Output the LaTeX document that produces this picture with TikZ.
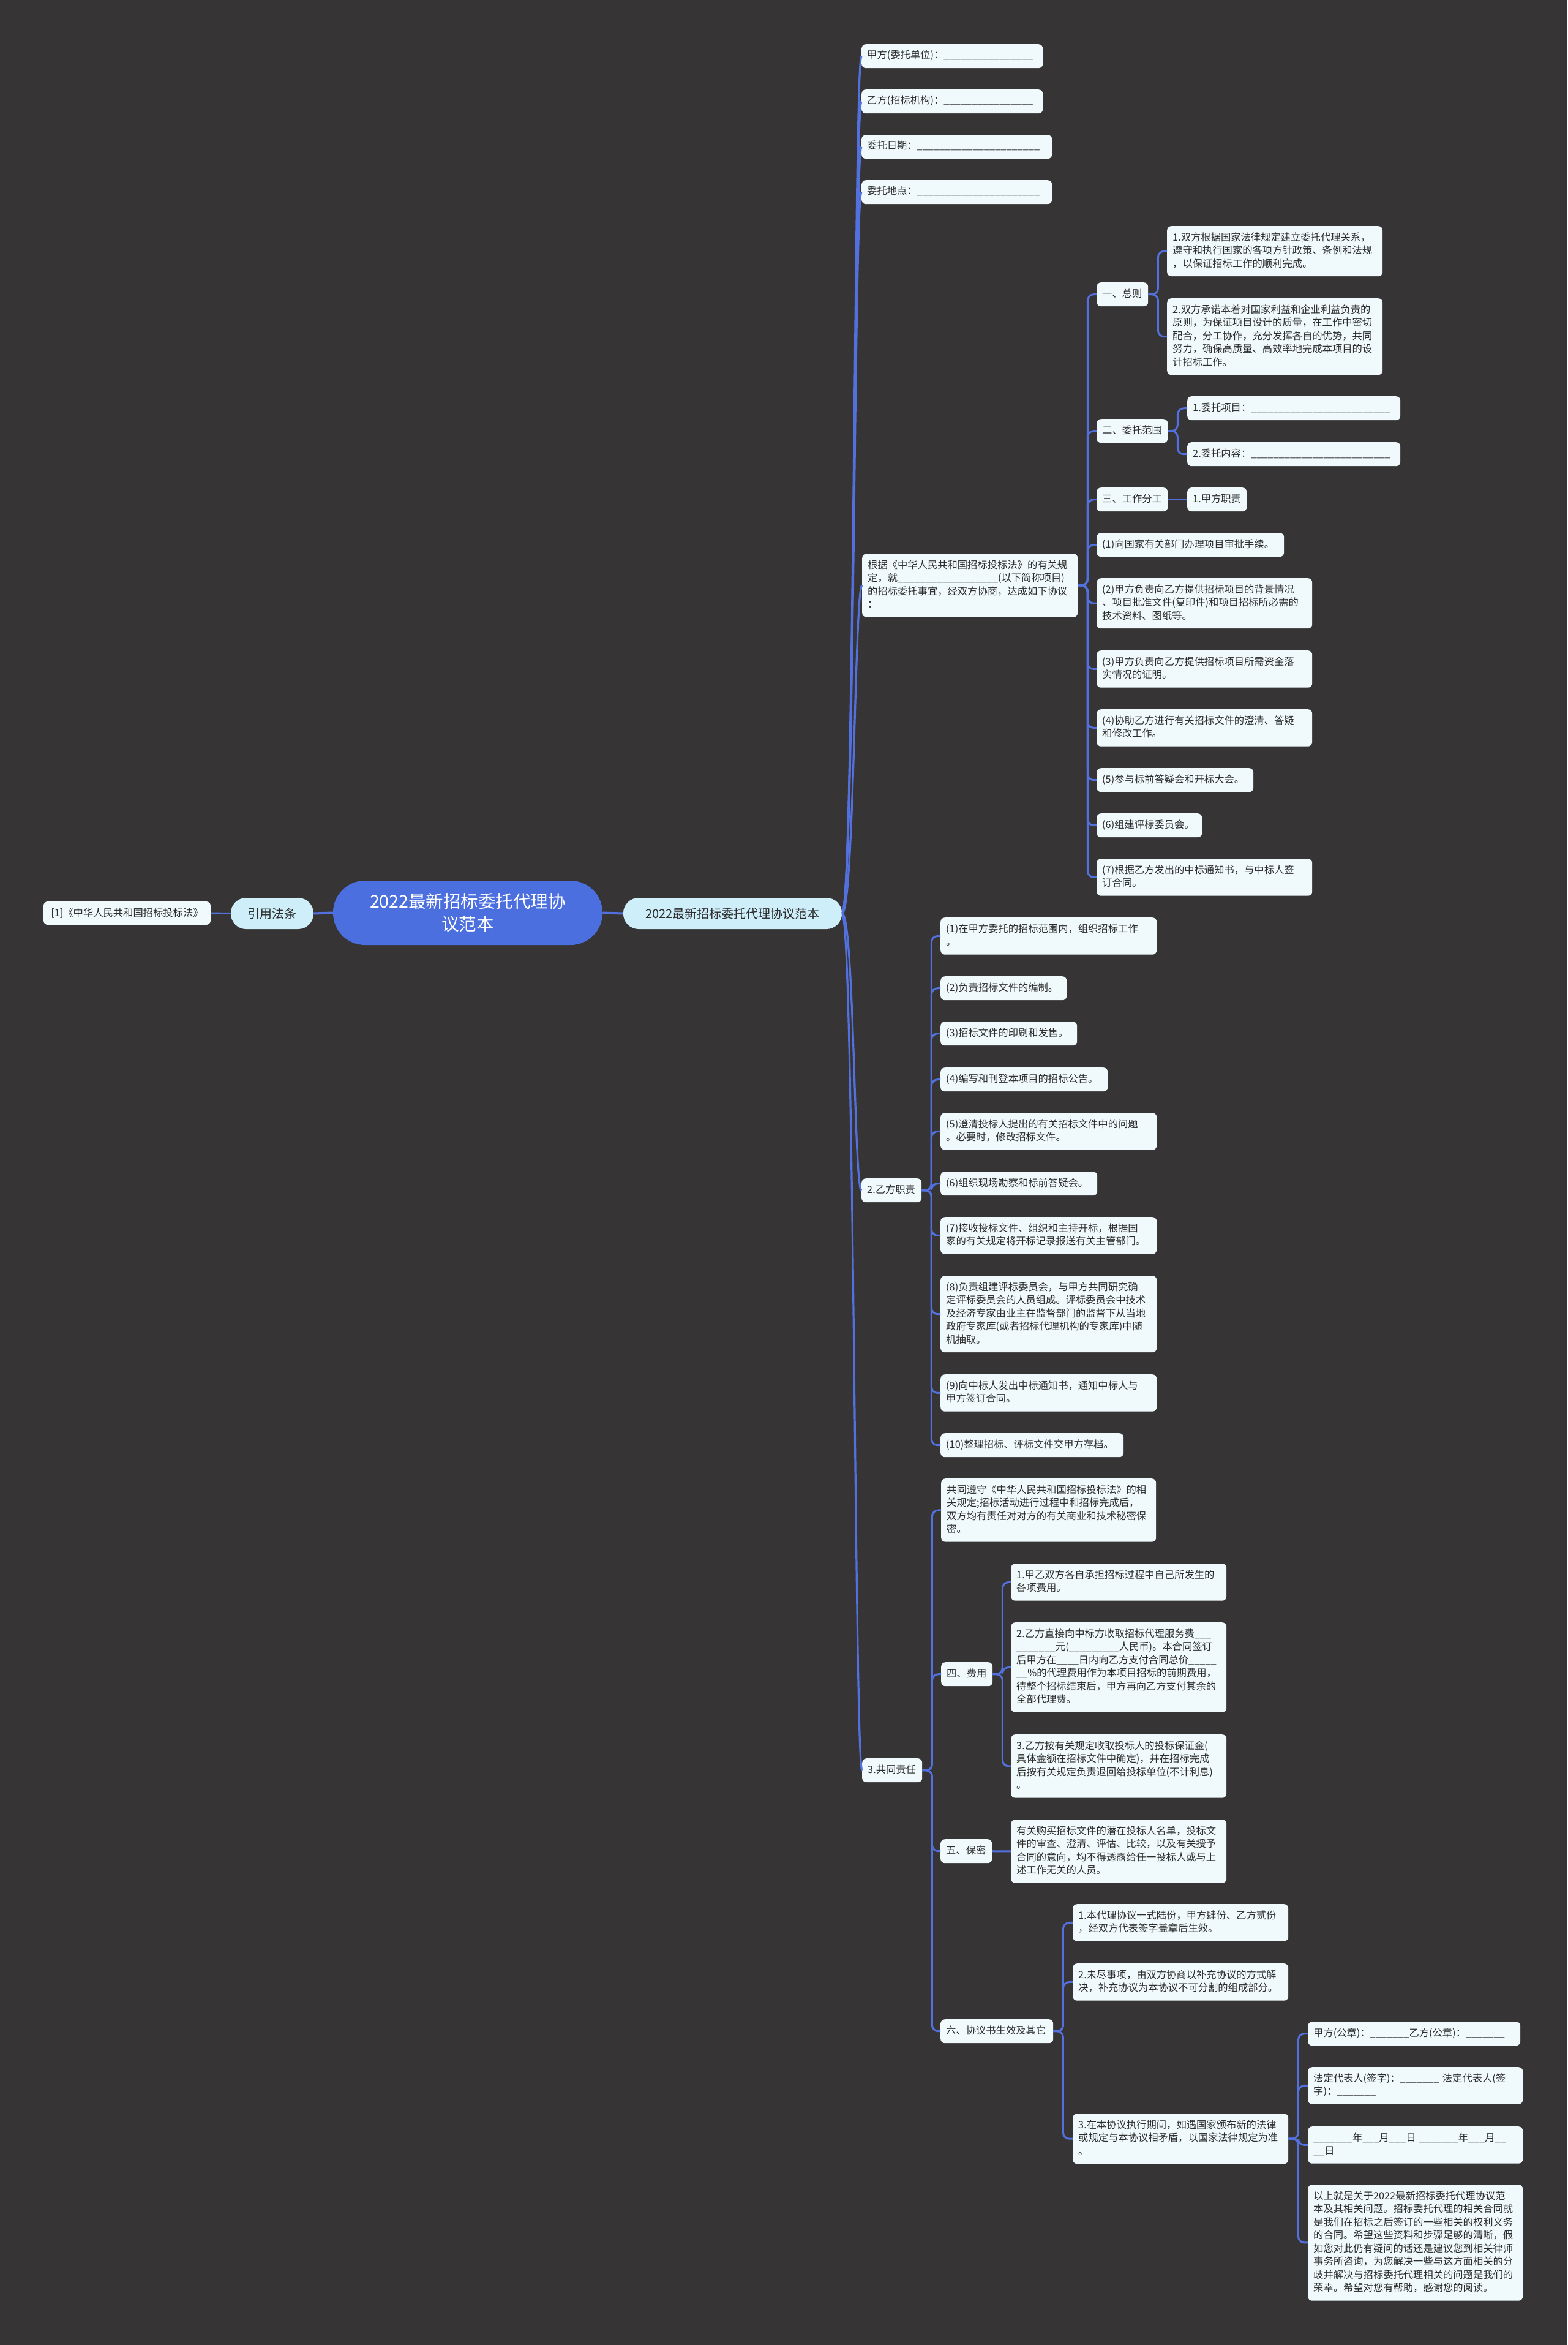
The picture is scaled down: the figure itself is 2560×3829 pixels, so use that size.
\documentclass[tikz,border=0pt]{standalone}
\usepackage{fontspec}
\setmainfont{Noto Sans CJK SC}
\usetikzlibrary{calc}
\definecolor{bgc}{RGB}{54,52,53}
\definecolor{linec}{RGB}{82,112,222}
\definecolor{leafc}{RGB}{240,250,252}
\definecolor{lvlc}{RGB}{206,238,250}
\definecolor{rootc}{RGB}{76,111,224}
\definecolor{txtc}{RGB}{45,45,45}
\newcommand\ublank[1]{\ifnum#1>0 \textunderscore\expandafter\ublank\expandafter{\number\numexpr#1-1\relax}\fi}
\newcommand\lns[1]{\strut#1\strut}
\begin{document}
\begin{tikzpicture}[x=1pt,y=-1pt,
  leafbox/.style={fill=leafc, rounded corners=7pt, anchor=north west, inner xsep=9pt, inner ysep=8.75pt, align=left, text=txtc, font=\fontsize{16.3pt}{21.5pt}\selectfont},
  lvlbox/.style={fill=lvlc, text=txtc, rounded corners=25pt, minimum height=51pt, inner sep=0pt, font=\fontsize{20pt}{24pt}\selectfont},
  conn/.style={draw=linec, line width=3pt},
  elbow/.style={conn, rounded corners=10pt},
  trunk/.style={conn, line width=3.2pt},
]
\useasboundingbox (0,0) rectangle (2560,3829);
\fill[bgc] (0,0) rectangle (2560,3829);

% centre and first level
\node[fill=rootc, text=white, rounded corners=52pt, minimum width=440pt, minimum height=105pt, inner sep=0pt, align=center, font=\fontsize{28.5pt}{37pt}\selectfont] (root) at (764,1490.5) {2022最新招标委托代理协\\议范本};
\node[lvlbox, minimum width=357pt] (fanben) at (1196.5,1491.5) {2022最新招标委托代理协议范本};
\node[lvlbox, minimum width=135pt] (yinyong) at (444.5,1491.5) {引用法条};
\node[fill=leafc, text=txtc, rounded corners=7pt, minimum width=273pt, minimum height=38pt, inner sep=0pt, font=\fontsize{16.3pt}{21.5pt}\selectfont] (fatiao) at (207.5,1491) {[1]《中华人民共和国招标投标法》};

% trunk children
\node[leafbox, text width=278pt] (t1) at (1407,72) {\lns{甲方(委托单位)：\ublank{16}}};
\node[leafbox, text width=278pt] (t2) at (1407,146) {\lns{乙方(招标机构)：\ublank{16}}};
\node[leafbox, text width=293pt] (t3) at (1407,220) {\lns{委托日期：\ublank{22}}};
\node[leafbox, text width=293pt] (t4) at (1407,294) {\lns{委托地点：\ublank{22}}};
\node[leafbox, text width=334pt] (t5) at (1408,904) {\lns{根据《中华人民共和国招标投标法》的有关规\\定，就\ublank{18}(以下简称项目)\\的招标委托事宜，经双方协商，达成如下协议\\：}};
\node[leafbox, text width=80pt] (t6) at (1407,1924) {\lns{2.乙方职责}};
\node[leafbox, text width=80pt] (t7) at (1408,2871) {\lns{3.共同责任}};

% children of t5
\node[leafbox, text width=66pt] (zongze) at (1791,461) {\lns{一、总则}};
\node[leafbox, text width=98pt] (fanwei) at (1791,684) {\lns{二、委托范围}};
\node[leafbox, text width=98pt] (fengong) at (1791,796) {\lns{三、工作分工}};
\node[leafbox, text width=288pt] (j1) at (1791,870) {\lns{(1)向国家有关部门办理项目审批手续。}};
\node[leafbox, text width=334pt] (j2) at (1791,944) {\lns{(2)甲方负责向乙方提供招标项目的背景情况\\、项目批准文件(复印件)和项目招标所必需的\\技术资料、图纸等。}};
\node[leafbox, text width=334pt] (j3) at (1791,1062) {\lns{(3)甲方负责向乙方提供招标项目所需资金落\\实情况的证明。}};
\node[leafbox, text width=334pt] (j4) at (1791,1158) {\lns{(4)协助乙方进行有关招标文件的澄清、答疑\\和修改工作。}};
\node[leafbox, text width=238pt] (j5) at (1791,1254) {\lns{(5)参与标前答疑会和开标大会。}};
\node[leafbox, text width=154pt] (j6) at (1791,1328) {\lns{(6)组建评标委员会。}};
\node[leafbox, text width=334pt] (j7) at (1791,1402) {\lns{(7)根据乙方发出的中标通知书，与中标人签\\订合同。}};

\node[leafbox, text width=334pt] (z1) at (1906,369) {\lns{1.双方根据国家法律规定建立委托代理关系，\\遵守和执行国家的各项方针政策、条例和法规\\，以保证招标工作的顺利完成。}};
\node[leafbox, text width=334pt] (z2) at (1906,487) {\lns{2.双方承诺本着对国家利益和企业利益负责的\\原则，为保证项目设计的质量，在工作中密切\\配合，分工协作，充分发挥各自的优势，共同\\努力，确保高质量、高效率地完成本项目的设\\计招标工作。}};
\node[leafbox, text width=330pt] (f1) at (1939,647) {\lns{1.委托项目：\ublank{25}}};
\node[leafbox, text width=330pt] (f2) at (1939,722) {\lns{2.委托内容：\ublank{25}}};
\node[leafbox, text width=79pt] (jiafang) at (1939,796) {\lns{1.甲方职责}};

% children of t6
\node[leafbox, text width=335pt] (ya1) at (1536,1498) {\lns{(1)在甲方委托的招标范围内，组织招标工作\\。}};
\node[leafbox, text width=188pt] (ya2) at (1536,1594) {\lns{(2)负责招标文件的编制。}};
\node[leafbox, text width=205pt] (ya3) at (1536,1668) {\lns{(3)招标文件的印刷和发售。}};
\node[leafbox, text width=255pt] (ya4) at (1536,1743) {\lns{(4)编写和刊登本项目的招标公告。}};
\node[leafbox, text width=335pt] (ya5) at (1536,1817) {\lns{(5)澄清投标人提出的有关招标文件中的问题\\。必要时，修改招标文件。}};
\node[leafbox, text width=238pt] (ya6) at (1536,1913) {\lns{(6)组织现场勘察和标前答疑会。}};
\node[leafbox, text width=335pt] (ya7) at (1536,1987) {\lns{(7)接收投标文件、组织和主持开标，根据国\\家的有关规定将开标记录报送有关主管部门。}};
\node[leafbox, text width=335pt] (ya8) at (1536,2083) {\lns{(8)负责组建评标委员会，与甲方共同研究确\\定评标委员会的人员组成。评标委员会中技术\\及经济专家由业主在监督部门的监督下从当地\\政府专家库(或者招标代理机构的专家库)中随\\机抽取。}};
\node[leafbox, text width=335pt] (ya9) at (1536,2244) {\lns{(9)向中标人发出中标通知书，通知中标人与\\甲方签订合同。}};
\node[leafbox, text width=281pt] (ya10) at (1536,2340) {\lns{(10)整理招标、评标文件交甲方存档。}};

% children of t7
\node[leafbox, text width=333pt] (g1) at (1537,2414) {\lns{共同遵守《中华人民共和国招标投标法》的相\\关规定;招标活动进行过程中和招标完成后，\\双方均有责任对对方的有关商业和技术秘密保\\密。}};
\node[leafbox, text width=66pt] (feiyong) at (1537,2714) {\lns{四、费用}};
\node[leafbox, text width=66pt] (baomi) at (1536,3003) {\lns{五、保密}};
\node[leafbox, text width=166pt] (liu) at (1536,3297) {\lns{六、协议书生效及其它}};

\node[leafbox, text width=334pt] (fy1) at (1651,2553) {\lns{1.甲乙双方各自承担招标过程中自己所发生的\\各项费用。}};
\node[leafbox, text width=334pt] (fy2) at (1651,2649) {\lns{2.乙方直接向中标方收取招标代理服务费\ublank{3}\\\ublank{7}元(\ublank{9}人民币)。本合同签订\\后甲方在\ublank{4}日内向乙方支付合同总价\ublank{5}\\\ublank{2}\%的代理费用作为本项目招标的前期费用，\\待整个招标结束后，甲方再向乙方支付其余的\\全部代理费。}};
\node[leafbox, text width=334pt] (fy3) at (1651,2832) {\lns{3.乙方按有关规定收取投标人的投标保证金(\\具体金额在招标文件中确定)，并在招标完成\\后按有关规定负责退回给投标单位(不计利息)\\。}};
\node[leafbox, text width=334pt] (bm1) at (1651,2971) {\lns{有关购买招标文件的潜在投标人名单，投标文\\件的审查、澄清、评估、比较，以及有关授予\\合同的意向，均不得透露给任一投标人或与上\\述工作无关的人员。}};

\node[leafbox, text width=334pt] (l1) at (1752,3109) {\lns{1.本代理协议一式陆份，甲方肆份、乙方贰份\\，经双方代表签字盖章后生效。}};
\node[leafbox, text width=334pt] (l2) at (1752,3206) {\lns{2.未尽事项，由双方协商以补充协议的方式解\\决，补充协议为本协议不可分割的组成部分。}};
\node[leafbox, text width=334pt] (l3) at (1752,3451) {\lns{3.在本协议执行期间，如遇国家颁布新的法律\\或规定与本协议相矛盾，以国家法律规定为准\\。}};

\node[leafbox, text width=329pt] (s1) at (2136,3301) {\lns{甲方(公章)：\ublank{7}乙方(公章)：\ublank{7}}};
\node[leafbox, text width=333pt] (s2) at (2136,3375) {\lns{法定代表人(签字)：\ublank{7} 法定代表人(签\\字)：\ublank{7}}};
\node[leafbox, text width=333pt] (s3) at (2136,3472) {\lns{\ublank{7}年\ublank{3}月\ublank{3}日~\ublank{7}年\ublank{3}月\ublank{2}\\\ublank{2}日}};
\node[leafbox, text width=333pt] (s4) at (2136,3567) {\lns{以上就是关于2022最新招标委托代理协议范\\本及其相关问题。招标委托代理的相关合同就\\是我们在招标之后签订的一些相关的权利义务\\的合同。希望这些资料和步骤足够的清晰，假\\如您对此仍有疑问的话还是建议您到相关律师\\事务所咨询，为您解决一些与这方面相关的分\\歧并解决与招标委托代理相关的问题是我们的\\荣幸。希望对您有帮助，感谢您的阅读。}};

% connectors
\draw[conn, line width=4pt] (root.east) -- (fanben.west);
\draw[conn, line width=4pt] (root.west) -- (yinyong.east);
\draw[conn] (yinyong.west) -- (fatiao.east);
\foreach \c in {t1,t2,t3,t4,t5,t6,t7}
  \draw[trunk] (fanben.east) .. controls +(20,0) and +(-12,0) .. (\c.west);
\foreach \c in {zongze,fanwei,fengong,j1,j2,j3,j4,j5,j6,j7}
  \draw[elbow] (t5.east) -- ++(16,0) |- (\c.west);
\foreach \c in {z1,z2}
  \draw[elbow] (zongze.east) -- ++(16,0) |- (\c.west);
\foreach \c in {f1,f2}
  \draw[elbow] (fanwei.east) -- ++(16,0) |- (\c.west);
\draw[conn] (fengong.east) -- (jiafang.west);
\foreach \c in {ya1,ya2,ya3,ya4,ya5,ya6,ya7,ya8,ya9,ya10}
  \draw[elbow] (t6.east) -- ++(16,0) |- (\c.west);
\foreach \c in {g1,feiyong,baomi,liu}
  \draw[elbow] (t7.east) -- ++(16,0) |- (\c.west);
\foreach \c in {fy1,fy2,fy3}
  \draw[elbow] (feiyong.east) -- ++(16,0) |- (\c.west);
\draw[conn] (baomi.east) -- (bm1.west);
\foreach \c in {l1,l2,l3}
  \draw[elbow] (liu.east) -- ++(16,0) |- (\c.west);
\foreach \c in {s1,s2,s3,s4}
  \draw[elbow] (l3.east) -- ++(16,0) |- (\c.west);
\end{tikzpicture}
\end{document}
